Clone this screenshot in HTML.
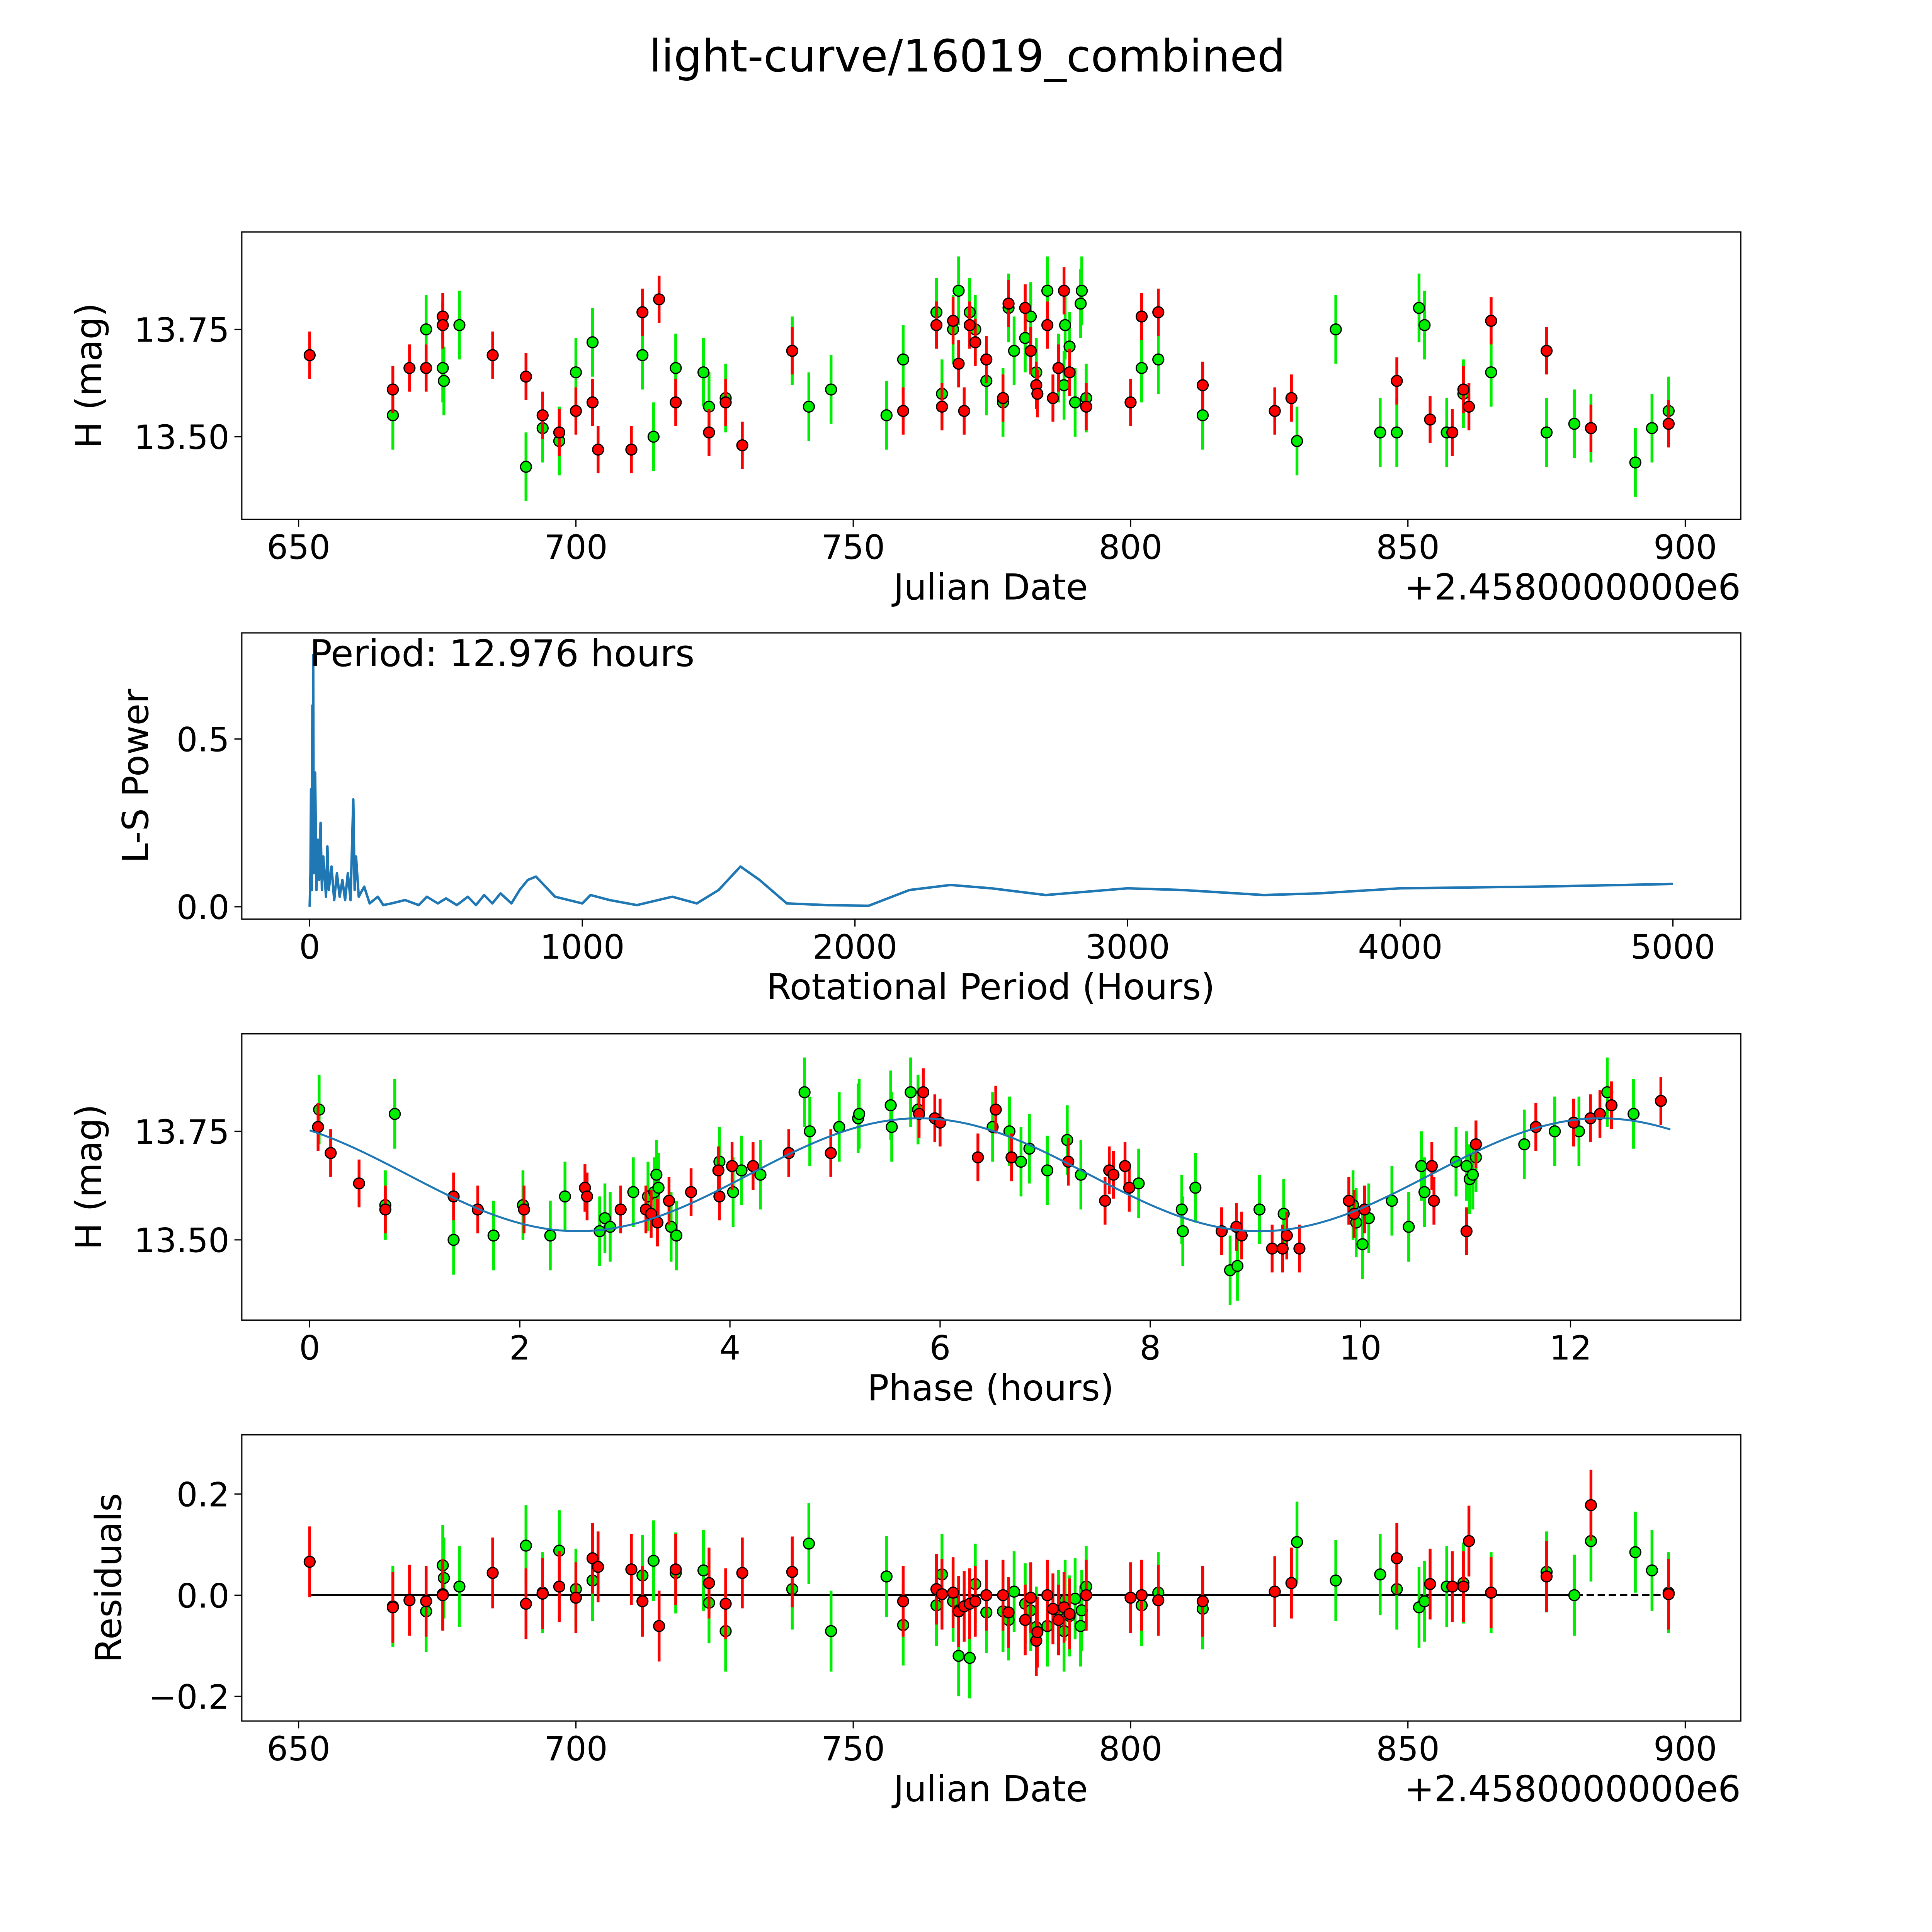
<!DOCTYPE html>
<html><head><meta charset="utf-8"><style>html,body{margin:0;padding:0;background:#fff;overflow:hidden;width:100%;height:100%}svg{display:block;width:100vw;height:100vh}text{font-family:"DejaVu Sans","Liberation Sans",sans-serif;fill:#000}</style></head>
<body>
<svg id="fig" xmlns="http://www.w3.org/2000/svg" viewBox="0 0 1566 1566">
<rect x="-2" y="-2" width="1572" height="1572" fill="#fff"/>
<text x="784" y="58" font-size="36" text-anchor="middle">light-curve/16019_combined</text>
<g id="p1"></g>
<g id="p2"></g>
<g id="p3"></g>
<g id="p4"></g>
</svg>
<script>
// ---- data ----
const lcRedDate=[652,667,670,673,676,676,685,691,694,697,700,703,704,710,712,715,718,724,727,730,739,759,765,766,768,769,770,771,772,774,777,778,781,782,783,783.2,785,786,787,788,789,792,800,802,805,813,826,829,848,854,858,860,861,865,875,883,897];
const lcRedMag=[13.69,13.61,13.66,13.66,13.78,13.76,13.69,13.64,13.55,13.51,13.56,13.58,13.47,13.47,13.79,13.82,13.58,13.51,13.58,13.48,13.70,13.56,13.76,13.57,13.77,13.67,13.56,13.76,13.72,13.68,13.59,13.81,13.80,13.70,13.62,13.60,13.76,13.59,13.66,13.84,13.65,13.57,13.58,13.78,13.79,13.62,13.56,13.59,13.63,13.54,13.51,13.61,13.57,13.77,13.70,13.52,13.53];
const lcGreenDate=[667,673,676,676.2,679,691,694,697,700,703,712,714,718,723,724,727,739,742,746,756,759,766,765,769,768,771,772,774,777,778,779,781,782,783,785,787,788,788.2,789,790,791,791.2,792,802,805,813,830,837,845,848,852,853,857,860,865,875,880,883,891,894,897];
const lcGreenMag=[13.55,13.75,13.66,13.63,13.76,13.43,13.52,13.49,13.65,13.72,13.69,13.50,13.66,13.65,13.57,13.59,13.70,13.57,13.61,13.55,13.68,13.60,13.79,13.84,13.75,13.79,13.75,13.63,13.58,13.80,13.70,13.73,13.78,13.65,13.84,13.66,13.62,13.76,13.71,13.58,13.81,13.84,13.59,13.66,13.68,13.55,13.49,13.75,13.51,13.51,13.80,13.76,13.51,13.60,13.65,13.51,13.53,13.52,13.44,13.52,13.56];
const redErr=0.055, greenErr=0.08;
const lsPeriod=[0,3,5,8,10,12,13,15,20,25,30,35,40,45,50,60,65,70,80,90,100,110,120,130,140,150,160,165,170,180,200,220,250,270,300,350,400,430,470,500,540,580,610,640,670,700,740,770,800,830,900,1000,1030,1100,1200,1330,1420,1500,1580,1650,1750,1900,2050,2200,2350,2500,2700,3000,3200,3500,3700,4000,4500,5000];
const lsPower=[0,0.1,0.35,0.05,0.6,0.2,0.75,0.1,0.4,0.05,0.2,0.08,0.25,0.05,0.15,0.03,0.18,0.05,0.12,0.02,0.1,0.03,0.08,0.02,0.1,0.02,0.32,0.05,0.15,0.03,0.06,0.01,0.03,0.005,0.01,0.02,0.005,0.03,0.01,0.025,0.005,0.03,0.005,0.035,0.01,0.04,0.01,0.05,0.08,0.09,0.03,0.01,0.035,0.02,0.005,0.03,0.01,0.05,0.12,0.08,0.01,0.005,0.003,0.05,0.065,0.055,0.035,0.055,0.05,0.035,0.04,0.055,0.06,0.068];
const phRedPhase=[0.08,0.2,0.47,0.72,1.37,1.6,2.04,2.62,2.64,2.96,3.2,3.25,3.31,3.42,3.63,3.89,3.9,4.02,4.22,4.56,4.96,5.84,5.8,5.95,6.0,6.36,6.53,6.68,7.22,7.57,7.61,7.65,7.76,7.8,8.68,8.82,8.87,9.16,9.26,9.3,9.42,9.89,9.94,10.04,10.68,10.7,11.01,11.1,11.67,12.03,12.19,12.28,12.39,12.86];
const phRedMag=[13.76,13.70,13.63,13.57,13.60,13.57,13.57,13.62,13.60,13.57,13.57,13.56,13.54,13.59,13.61,13.66,13.60,13.67,13.67,13.70,13.70,13.84,13.79,13.78,13.77,13.69,13.80,13.69,13.68,13.59,13.66,13.65,13.67,13.62,13.52,13.53,13.51,13.48,13.48,13.51,13.48,13.59,13.56,13.57,13.67,13.59,13.52,13.72,13.76,13.77,13.78,13.79,13.81,13.82];
const phGreenPhase=[0.09,0.81,0.72,1.37,1.75,2.03,2.29,2.43,2.76,2.81,2.86,3.08,3.22,3.28,3.3,3.32,3.44,3.49,3.9,4.03,4.11,4.29,4.71,4.76,5.04,5.22,5.23,5.53,5.54,5.72,5.79,6.5,6.66,6.77,6.85,7.02,7.21,7.34,7.89,8.3,8.31,8.43,8.76,8.83,9.04,9.27,9.93,9.96,10.02,10.08,10.3,10.46,10.58,10.61,10.91,11.01,11.04,11.07,11.1,11.56,11.85,12.08,12.35,12.6];
const phGreenMag=[13.80,13.79,13.58,13.50,13.51,13.58,13.51,13.60,13.52,13.55,13.53,13.61,13.60,13.61,13.65,13.62,13.53,13.51,13.68,13.61,13.66,13.65,13.84,13.75,13.76,13.78,13.79,13.81,13.76,13.84,13.80,13.76,13.75,13.68,13.71,13.66,13.73,13.65,13.63,13.57,13.52,13.62,13.43,13.44,13.57,13.56,13.58,13.54,13.49,13.55,13.59,13.53,13.67,13.61,13.68,13.67,13.64,13.65,13.69,13.72,13.75,13.75,13.84,13.79];
const fitParams=[13.65,0.13,5.8,6.488]; // mean, amplitude, peak phase, half-period
const resRed=[0.066,-0.024,-0.01,-0.012,0.002,0.0,0.044,-0.017,0.003,0.017,-0.005,0.073,0.056,0.051,-0.012,-0.061,0.051,0.024,-0.017,0.044,0.046,-0.012,0.012,0.002,0.005,-0.032,-0.022,-0.017,-0.012,0,0,-0.034,-0.049,-0.005,-0.09,-0.073,0,-0.027,-0.049,-0.024,-0.037,0,-0.005,0,-0.01,-0.012,0.007,0.024,0.073,0.022,0.017,0.017,0.107,0.005,0.037,0.178,0.002];
const resGreen=[-0.022,-0.032,0.059,0.034,0.017,0.098,0.005,0.088,0.012,0.029,0.039,0.068,0.044,0.049,-0.015,-0.071,0.012,0.102,-0.071,0.037,-0.059,0.041,-0.02,-0.12,-0.012,-0.124,0.022,-0.034,-0.032,-0.049,0.007,-0.017,-0.03,-0.063,-0.061,-0.03,-0.071,-0.01,-0.041,-0.007,-0.061,-0.03,0.017,-0.02,0.005,-0.027,0.105,0.029,0.041,0.012,-0.024,-0.012,0.017,0.024,0.005,0.046,0,0.107,0.085,0.049,0.005];
const dateTicks=[650,700,750,800,850,900];
const magTicks=[13.50,13.75];
const lsXTicks=[0,1000,2000,3000,4000,5000];
const lsYTicks=[0.0,0.5];
const phaseTicks=[0,2,4,6,8,10,12];
const resTicks=[-0.2,0.0,0.2];

const NS="http://www.w3.org/2000/svg";
function mk(parent,tag,attrs){const e=document.createElementNS(NS,tag);for(const k in attrs)e.setAttribute(k,attrs[k]);parent.appendChild(e);return e;}
function lin(d0,d1,r0,r1){return v=>r0+(v-d0)*(r1-r0)/(d1-d0);}
const L=196,R=1411;
function frame(g,top,bot,xs,xt,ys,yt,xfmt,yfmt,xlabel,ylabel,offset,ylx){
  for(const t of xt){const x=xs(t);
    const tk=mk(g,'line',{x1:x,x2:x,y1:bot,y2:bot+6,stroke:'#000','stroke-width':1});
    
    const tx=mk(g,'text',{x:x,y:bot+32,'font-size':27,'text-anchor':'middle'});tx.textContent=xfmt(t);
    }
  for(const t of yt){const y=ys(t);
    const tk=mk(g,'line',{x1:L-6,x2:L,y1:y,y2:y,stroke:'#000','stroke-width':1});
    
    const tx=mk(g,'text',{x:L-10,y:y+10,'font-size':27,'text-anchor':'end'});tx.textContent=yfmt(t);
    }
  const xl=mk(g,'text',{x:803,y:bot+65,'font-size':29,'text-anchor':'middle'});xl.textContent=xlabel;
  
  const cy=(top+bot)/2;
  const yl=mk(g,'text',{x:ylx,y:cy,'font-size':29,'text-anchor':'middle',transform:`rotate(-90 ${ylx} ${cy})`});yl.textContent=ylabel;
  
  if(offset){const o=mk(g,'text',{x:R,y:bot+65,'font-size':29,'text-anchor':'end'});o.textContent=offset;
    }
}
function border(g,top,bot){const b=mk(g,'rect',{x:L,y:top,width:R-L,height:bot-top,fill:'none',stroke:'#000','stroke-width':1});
  }
function points(g,xs,ys,X,Y,err,col,name){
  for(let i=0;i<X.length;i++){const x=xs(X[i]);
    const e=mk(g,'line',{x1:x,x2:x,y1:ys(Y[i]-err),y2:ys(Y[i]+err),stroke:col,'stroke-width':2.3});
    }
  for(let i=0;i<X.length;i++){
    const c=mk(g,'circle',{cx:xs(X[i]),cy:ys(Y[i]),r:4.4,fill:col,stroke:'#000','stroke-width':1});
    }
}
const f2=v=>v.toFixed(2), f1=v=>v.toFixed(1), f0=v=>String(v);
const fres=v=>(v<0?'\u2212':'')+Math.abs(v).toFixed(1);
// Panel 1
(function(){const g=document.getElementById('p1');const top=188,bot=421;
  const xs=lin(650,900,242,1366), ys=lin(13.5,13.75,354,267);
  frame(g,top,bot,xs,dateTicks,ys,magTicks,f0,f2,'Julian Date','H (mag)','+2.4580000000e6',82);
  points(g,xs,ys,lcGreenDate,lcGreenMag,greenErr,'#00ee00','green-obs');
  points(g,xs,ys,lcRedDate,lcRedMag,redErr,'#ff0000','red-obs');
  border(g,top,bot);})();
// Panel 2
(function(){const g=document.getElementById('p2');const top=513,bot=745;
  const xs=lin(0,5000,251,1356), ys=lin(0,0.5,735,599);
  frame(g,top,bot,xs,lsXTicks,ys,lsYTicks,f0,f1,'Rotational Period (Hours)','L-S Power',null,120);
  const pts=lsPeriod.map((p,i)=>xs(p).toFixed(2)+','+ys(lsPower[i]).toFixed(2)).join(' ');
  const pl=mk(g,'polyline',{points:pts,fill:'none',stroke:'#1f77b4','stroke-width':2,'stroke-linejoin':'round'});
  
  const t=mk(g,'text',{x:251,y:540,'font-size':30});t.textContent='Period: 12.976 hours';
  
  border(g,top,bot);})();
// Panel 3
(function(){const g=document.getElementById('p3');const top=838,bot=1070;
  const xs=lin(0,12,251,1273), ys=lin(13.5,13.75,1005,917);
  frame(g,top,bot,xs,phaseTicks,ys,magTicks,f0,f2,'Phase (hours)','H (mag)',null,82);
  points(g,xs,ys,phGreenPhase,phGreenMag,greenErr,'#00ee00','green-phase');
  points(g,xs,ys,phRedPhase,phRedMag,redErr,'#ff0000','red-phase');
  const [m,a,pk,hp]=fitParams;const arr=[];
  for(let p=0;p<=12.976;p+=0.05){arr.push(xs(p).toFixed(2)+','+ys(m+a*Math.cos(2*Math.PI*(p-pk)/hp)).toFixed(2));}
  const pl=mk(g,'polyline',{points:arr.join(' '),fill:'none',stroke:'#1f77b4','stroke-width':1.6});
  
  border(g,top,bot);})();
// Panel 4
(function(){const g=document.getElementById('p4');const top=1163,bot=1395;
  const xs=lin(650,900,242,1366), ys=lin(0,0.2,1293,1211);
  frame(g,top,bot,xs,dateTicks,ys,resTicks,f0,fres,'Julian Date','Residuals','+2.4580000000e6',98);
  const z=mk(g,'line',{x1:xs(652),x2:xs(897),y1:ys(0),y2:ys(0),stroke:'#000','stroke-width':1.5,'stroke-dasharray':'6,3'});
  
  const z2=mk(g,'line',{x1:xs(652),x2:xs(880),y1:ys(0),y2:ys(0),stroke:'#000','stroke-width':1.5});
  
  points(g,xs,ys,lcGreenDate,resGreen,greenErr,'#00ee00','green-residual');
  points(g,xs,ys,lcRedDate,resRed,redErr+0.015,'#ff0000','red-residual');
  border(g,top,bot);})();
</script>
</body></html>
